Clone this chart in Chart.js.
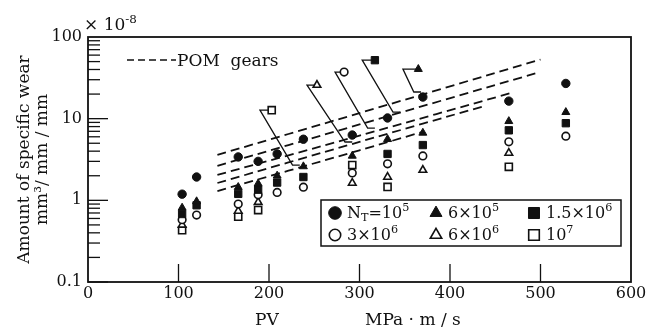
<!DOCTYPE html>
<html>
<head>
<meta charset="utf-8">
<script src="https://cdn.jsdelivr.net/npm/chart.js@4.4.0/dist/chart.umd.min.js"></script>
<style>
  html, body { margin: 0; padding: 0; background: #fff; }
  #wrap { width: 661px; height: 329px; }
</style>
</head>
<body>
<div id="wrap"><canvas id="chart" width="661" height="329"></canvas></div>
<script>
// PV columns (MPa·m/s) and specific wear (x 10^-8 mm3/mm/mm) per N_T
const pv = [104, 120, 166, 188, 209, 238, 292, 331, 370, 465, 528];
const wearN1e5   = [1.19, 1.93, 3.4, 3.0, 3.7, 5.6, 6.3, 10.2, 18.4, 16.4, 27];
const wearN6e5   = [0.81, 0.97, 1.45, 1.6, 2.0, 2.6, 3.5, 5.6, 6.7, 9.3, 12];
const wearN15e6  = [0.68, 0.87, 1.2, 1.35, 1.65, 1.93, null, 3.7, 4.75, 7.2, 8.8];
const wearN3e6   = [0.58, 0.66, 0.9, 1.17, 1.25, 1.45, 2.16, 2.8, 3.5, 5.2, 6.1];
const wearN6e6   = [0.5, null, 0.74, 0.95, null, null, 1.63, 1.93, 2.35, 3.8, null];
const wearN1e7   = [0.43, null, 0.63, 0.76, null, null, 2.7, 1.46, null, 2.57, null];

// POM gear reference lines (dashed), one per N_T, top to bottom
const pomStartPV = 143;
const pomMidPV = 300;
const pomEndPV = [500, 495, 470, 440, 370];
const pomStart = [3.6, 2.65, 2.05, 1.63, 1.3];
const pomMid   = [11.7, 8.5, 6.2, 5.2, 4.1];
const pomEnd   = [53, 36, 21, 14.5, 6.9];

// callouts: symbol -> corner -> end on the dashed line
const calloutSymbolPV  = [365, 317, 283, 253, 203];
const calloutSymbolVal = [40.4, 52, 37.2, 25.8, 12.7];
const calloutCornerPV  = [348, 303, 273, 242, 190];
const calloutEndPV     = [360, 337, 309, 284, 226];
const calloutEndVal    = [21.2, 12.0, 7.67, 5.18, 2.7];

const yTicks = [0.1, 1, 10, 100];
const xTickStep = 100;

const serif = '"DejaVu Serif", "Liberation Serif", serif';
const ink = '#111';

const series = [
  { vals: wearN1e5, style: 'circle', filled: true, r: 4.2 },
  { vals: wearN6e5, style: 'triangle', filled: true, r: 4.6 },
  { vals: wearN15e6, style: 'rect', filled: true, r: 5.2 },
  { vals: wearN3e6, style: 'circle', filled: false, r: 3.8 },
  { vals: wearN6e6, style: 'triangle', filled: false, r: 4.4 },
  { vals: wearN1e7, style: 'rect', filled: false, r: 5.0 }
];
// callout symbol style, same order as callout arrays (6e5, 1.5e6, 3e6, 6e6, 1e7)
const calloutSeries = [1, 2, 3, 4, 5];

const datasets = [];
series.forEach(s => {
  datasets.push({
    type: 'scatter',
    data: pv.map((x, i) => ({ x: x, y: s.vals[i] })).filter(p => p.y !== null),
    pointStyle: s.style,
    pointRadius: s.r,
    backgroundColor: s.filled ? ink : '#fff',
    borderColor: ink,
    borderWidth: s.filled ? 1 : 1.6,
    order: 0
  });
});

pomEndPV.forEach((endPV, i) => {
  datasets.push({
    type: 'line',
    data: [{ x: pomStartPV, y: pomStart[i] }, { x: pomMidPV, y: pomMid[i] }, { x: endPV, y: pomEnd[i] }],
    borderColor: ink,
    borderWidth: 1.8,
    borderDash: [9, 5],
    pointRadius: 0,
    tension: 0.3,
    fill: false,
    order: 2
  });
});

calloutSymbolPV.forEach((sx, i) => {
  const s = series[calloutSeries[i]];
  datasets.push({
    type: 'line',
    data: [
      { x: sx, y: calloutSymbolVal[i] },
      { x: calloutCornerPV[i], y: calloutSymbolVal[i] },
      { x: calloutEndPV[i], y: calloutEndVal[i] },
      { x: calloutEndPV[i] + 8, y: calloutEndVal[i] }
    ],
    borderColor: ink,
    borderWidth: 1.3,
    pointStyle: s.style,
    pointRadius: [s.r, 0, 0, 0],
    pointBackgroundColor: s.filled ? ink : '#fff',
    pointBorderColor: ink,
    pointBorderWidth: s.filled ? 1 : 1.6,
    tension: 0,
    fill: false,
    order: 1
  });
});

function drawParts(ctx, parts, x, y, size) {
  parts.forEach(p => {
    let fs = size, dy = 0;
    if (p.sup) { fs = size * 0.7; dy = -size * 0.4; }
    if (p.sub) { fs = size * 0.7; dy = size * 0.25; }
    ctx.font = fs + 'px ' + serif;
    ctx.fillText(p.t, x, y + dy);
    x += ctx.measureText(p.t).width;
  });
  return x;
}

const legendRows = [
  [
    { s: 0, parts: [{ t: 'N' }, { t: 'T', sub: true }, { t: '=10' }, { t: '5', sup: true }] },
    { s: 1, parts: [{ t: '6\u00d710' }, { t: '5', sup: true }] },
    { s: 2, parts: [{ t: '1.5\u00d710' }, { t: '6', sup: true }] }
  ],
  [
    { s: 3, parts: [{ t: '3\u00d710' }, { t: '6', sup: true }] },
    { s: 4, parts: [{ t: '6\u00d710' }, { t: '6', sup: true }] },
    { s: 5, parts: [{ t: '10' }, { t: '7', sup: true }] }
  ]
];

const decor = {
  id: 'decor',
  afterDraw(chart) {
    const ctx = chart.ctx;
    const a = chart.chartArea;
    const xs = chart.scales.x, ys = chart.scales.y;
    ctx.save();
    ctx.strokeStyle = ink;
    ctx.fillStyle = ink;

    // frame
    ctx.lineWidth = 1.8;
    ctx.strokeRect(a.left, a.top, a.right - a.left, a.bottom - a.top);

    // y ticks inside
    ctx.lineWidth = 1.3;
    [0.1, 1, 10].forEach(d => {
      for (let m = 1; m <= 9; m++) {
        const y = ys.getPixelForValue(d * m);
        const len = m === 1 ? 20 : 12;
        ctx.beginPath();
        ctx.moveTo(a.left, y);
        ctx.lineTo(a.left + len, y);
        ctx.stroke();
      }
    });
    // x ticks inside
    for (let v = xTickStep; v < 600; v += xTickStep) {
      const x = xs.getPixelForValue(v);
      ctx.beginPath();
      ctx.moveTo(x, a.bottom);
      ctx.lineTo(x, a.bottom - 18);
      ctx.stroke();
    }

    // x-axis titles
    ctx.textBaseline = 'alphabetic';
    ctx.font = '17px ' + serif;
    ctx.fillText('PV', 255, 325);
    ctx.fillText('MPa \u00b7 m / s', 365, 325);

    // scale factor
    drawParts(ctx, [{ t: '\u00d7 10' }, { t: '-8', sup: true }], 84, 30, 17);

    // POM legend
    ctx.lineWidth = 1.5;
    ctx.setLineDash([7, 4]);
    ctx.beginPath();
    ctx.moveTo(127, 60);
    ctx.lineTo(176, 60);
    ctx.stroke();
    ctx.setLineDash([]);
    ctx.font = '17px ' + serif;
    ctx.fillText('POM  gears', 177, 66);

    // series legend box
    ctx.lineWidth = 1.5;
    ctx.strokeRect(321, 200, 300, 46);
    const colX = [335, 436, 534];
    const rowY = [213, 235];
    legendRows.forEach((row, ri) => {
      row.forEach((item, ci) => {
        const s = series[item.s];
        ctx.fillStyle = s.filled ? ink : '#fff';
        ctx.strokeStyle = ink;
        ctx.lineWidth = s.filled ? 1 : 1.6;
        Chart.helpers.drawPoint(ctx, { pointStyle: s.style, radius: s.r * 1.5, rotation: 0, borderWidth: ctx.lineWidth }, colX[ci], rowY[ri]);
        ctx.fillStyle = ink;
        ctx.textBaseline = 'middle';
        drawParts(ctx, item.parts, colX[ci] + 12, rowY[ri] + 1, 16);
      });
    });
    ctx.restore();
  }
};

new Chart(document.getElementById('chart'), {
  data: { datasets: datasets },
  options: {
    responsive: false,
    animation: false,
    layout: { padding: { top: 37, right: 30, left: 0, bottom: 0 } },
    plugins: { legend: { display: false }, tooltip: { enabled: false } },
    scales: {
      x: {
        type: 'linear',
        min: 0,
        max: 600,
        ticks: { stepSize: xTickStep, color: ink, font: { family: serif, size: 16 }, padding: 2, maxRotation: 0 },
        grid: { display: false, drawTicks: false },
        border: { display: false },
        afterFit(s) { s.height = 47; }
      },
      y: {
        type: 'logarithmic',
        min: 0.1,
        max: 100,
        afterBuildTicks(s) { s.ticks = yTicks.map(v => ({ value: v })); },
        ticks: {
          color: ink,
          font: { family: serif, size: 16 },
          padding: 6,
          callback: v => (v < 1 ? v.toFixed(1) : String(v))
        },
        grid: { display: false, drawTicks: false },
        border: { display: false },
        title: {
          display: true,
          text: ['Amount of specific wear', 'mm\u00b3/ mm / mm'],
          color: ink,
          font: { family: serif, size: 17, lineHeight: 1.06 },
          padding: { top: 16, bottom: 0 }
        },
        afterFit(s) { s.width = 88; }
      }
    }
  },
  plugins: [decor]
});
</script>
</body>
</html>
